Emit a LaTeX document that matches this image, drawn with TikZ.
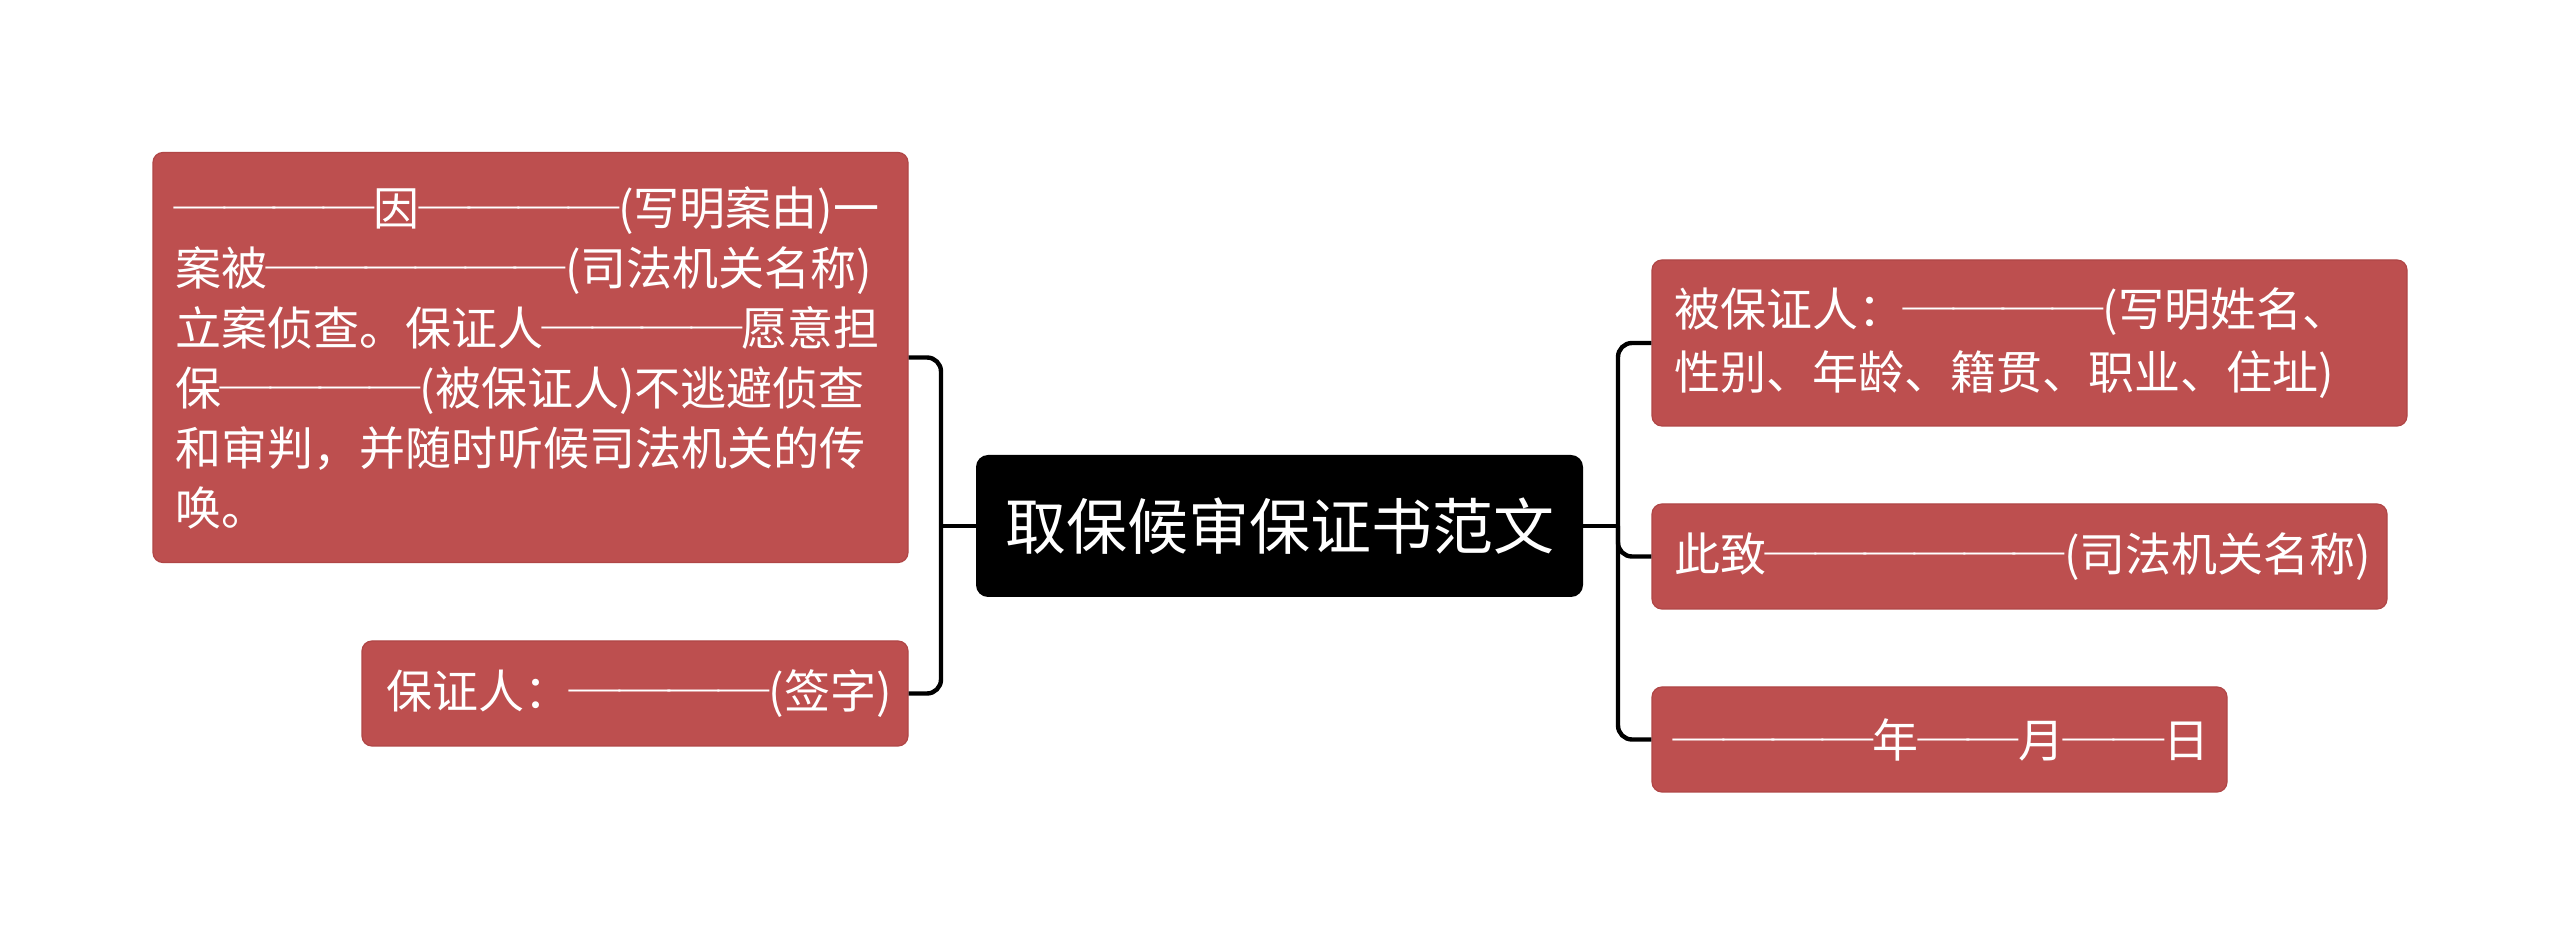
\documentclass[tikz,border=0pt]{standalone}
\usepackage{fontspec}
\setmainfont{Noto Sans CJK SC}
\newfontfamily\dashfont[RawFeature=+fwid]{Noto Sans CJK SC}
\newcommand\dsh{\makebox[1.08em][c]{\scalebox{1.32}[1]{\dashfont —}}}
\newcommand\dd[1]{\foreach\i in {1,...,#1}{\dsh}}
\definecolor{leafred}{RGB}{189,79,79}
\definecolor{leafedge}{RGB}{176,70,70}
\begin{document}
\begin{tikzpicture}[x=0.5pt,y=-0.5pt,
  leaf/.style={draw=leafedge, line width=0.6pt, fill=leafred, rounded corners=5pt,
    text=white, font=\fontsize{23}{30}\selectfont, align=left, anchor=center,
    inner xsep=11pt, inner ysep=0pt},
  root/.style={fill=black, rounded corners=6pt, text=white,
    font=\fontsize{30.5}{36}\selectfont, align=center, inner sep=0pt, anchor=center},
  conn/.style={draw=black, line width=2.2pt, rounded corners=7pt}]
\useasboundingbox (0,0) rectangle (2560,945);
\fill[white] (0,0) rectangle (2560,945);

\node[root, minimum width=303.5pt, minimum height=71pt] (C) at (1279.5,526) {取保候审保证书范文};

\node[leaf, text width=355.5pt, minimum height=205pt] (L1) at (530.5,357.5)
  {\dd{4}因\dd{4}(写明案由)一\\
   案被\dd{6}(司法机关名称)\\
   立案侦查。保证人\dd{4}愿意担\\
   保\dd{4}(被保证人)不逃避侦查\\
   和审判，并随时听候司法机关的传\\
   唤。};
\node[leaf, text width=249pt, inner xsep=12pt, minimum height=52.5pt] (L2) at (635,693.5)
  {保证人：\dd{4}(签字)};

\node[leaf, text width=355.5pt, minimum height=83pt, font=\fontsize{23}{31.5}\selectfont] (R1) at (2029.5,343)
  {被保证人：\dd{4}(写明姓名、\\性别、年龄、籍贯、职业、住址)};
\node[leaf, text width=345.5pt, minimum height=52.5pt] (R2) at (2019.5,556.5)
  {此致\dd{6}(司法机关名称)};
\node[leaf, text width=265.5pt, minimum height=52.5pt] (R3) at (1939.5,739.5)
  {\dd{4}年\dd{2}月\dd{2}日};

\coordinate (jl) at (941,526);
\coordinate (jr) at (1618,526);
\draw[conn] (L1.east) -| (jl) |- (L2.east);
\draw[conn] (C.west) -- (jl);
\draw[conn] (R1.west) -| (jr) |- (R3.west);
\draw[conn] (C.east) -- (jr);
\draw[conn] (jr) |- (R2.west);
\end{tikzpicture}
\end{document}
